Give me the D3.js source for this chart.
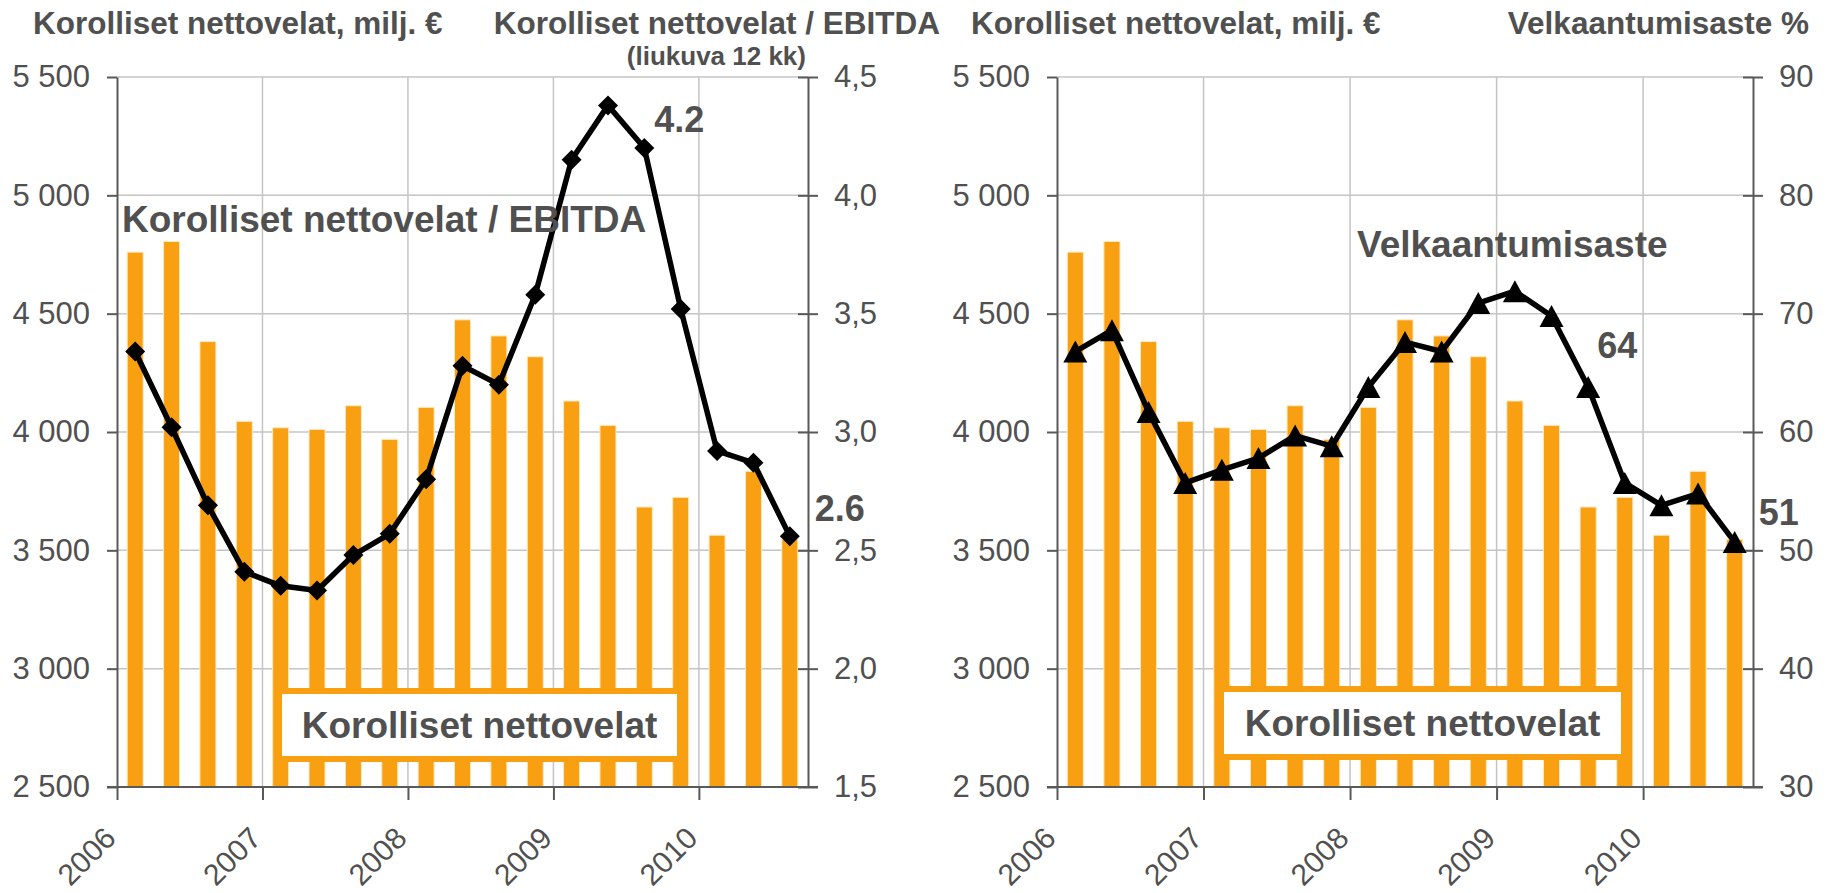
<!DOCTYPE html>
<html>
<head>
<meta charset="utf-8">
<script src="https://cdn.jsdelivr.net/npm/d3@7"></script>
<style>
    body { margin: 0; background: #fff; }
    svg { display: block; font-family: "Liberation Sans", Arial, sans-serif; }
</style>
</head>
<body>
<div id="chart"></div>
<script>

// Quarterly data, Q1/2006 - Q3/2010
const quarters = [
    "2006Q1", "2006Q2", "2006Q3", "2006Q4",
    "2007Q1", "2007Q2", "2007Q3", "2007Q4",
    "2008Q1", "2008Q2", "2008Q3", "2008Q4",
    "2009Q1", "2009Q2", "2009Q3", "2009Q4",
    "2010Q1", "2010Q2", "2010Q3"
];
const netDebt = [4760, 4805, 4382, 4045, 4018, 4011, 4111, 3969, 4104, 4474, 4406, 4318, 4131, 4028, 3683, 3724, 3564, 3834, 3546];
const debtToEbitda = [3.34, 3.02, 2.69, 2.41, 2.35, 2.33, 2.48, 2.57, 2.80, 3.28, 3.20, 3.58, 4.15, 4.38, 4.20, 3.52, 2.92, 2.87, 2.56];
const gearing = [66.8, 68.6, 61.7, 55.7, 56.8, 57.8, 59.7, 58.8, 63.8, 67.6, 66.8, 70.9, 71.9, 69.8, 63.8, 55.7, 53.8, 54.8, 50.7];

// Tick labels
const yearTicks = [2006, 2007, 2008, 2009, 2010];
const debtTicks = [2500, 3000, 3500, 4000, 4500, 5000, 5500];
const ratioTicks = [1.5, 2.0, 2.5, 3.0, 3.5, 4.0, 4.5];
const gearingTicks = [30, 40, 50, 60, 70, 80, 90];

const barColour = "#F8A012";
const textColour = "#505050";
const axisColour = "#595959";
const gridColour = "#C4C4C4";

const fiLocale = d3.formatLocale({ decimal: ",", thousands: " ", grouping: [3], currency: ["", " €"] });

const plotTop = 77;
const plotHeight = 710;

const svg = d3.select("#chart")
    .append("svg")
    .attr("width", 1834)
    .attr("height", 893);

const drawPanel = (opts) => {
    const width = opts.width;
    const g = svg.append("g")
        .attr("transform", "translate(" + opts.left + "," + plotTop + ")");

    // Scales
    const xBand = d3.scaleBand()
        .domain(quarters)
        .range([0, width])
        .paddingInner(0.56)
        .paddingOuter(0.28);

    const xYear = d3.scaleLinear()
        .domain([yearTicks[0], yearTicks[0] + quarters.length / 4])
        .range([0, width]);

    const yLeft = d3.scaleLinear()
        .domain([debtTicks[0], debtTicks[debtTicks.length - 1]])
        .range([plotHeight, 0]);

    const yRight = d3.scaleLinear()
        .domain([opts.rightTicks[0], opts.rightTicks[opts.rightTicks.length - 1]])
        .range([plotHeight, 0]);

    // Gridlines
    g.append("g")
        .selectAll("line")
        .data(debtTicks.slice(1))
        .enter()
        .append("line")
        .attr("x1", 0)
        .attr("x2", width)
        .attr("y1", d => yLeft(d))
        .attr("y2", d => yLeft(d))
        .attr("stroke", gridColour)
        .attr("stroke-width", 1.5);

    g.append("g")
        .selectAll("line")
        .data(yearTicks.slice(1))
        .enter()
        .append("line")
        .attr("x1", d => xYear(d))
        .attr("x2", d => xYear(d))
        .attr("y1", 0)
        .attr("y2", plotHeight)
        .attr("stroke", gridColour)
        .attr("stroke-width", 1.5);

    // Bars
    g.append("g")
        .selectAll("rect")
        .data(quarters)
        .enter()
        .append("rect")
        .attr("x", (d) => xBand(d))
        .attr("width", xBand.bandwidth())
        .attr("y", (d, i) => yLeft(netDebt[i]))
        .attr("height", (d, i) => plotHeight - yLeft(netDebt[i]))
        .attr("fill", barColour)
        .attr("stroke", "#FFE9C2")
        .attr("stroke-width", 1);

    // Axes
    const leftAxis = g.append("g")
        .call(d3.axisLeft(yLeft)
            .tickValues(debtTicks)
            .tickSize(10)
            .tickSizeOuter(0)
            .tickPadding(17)
            .tickFormat(fiLocale.format(",d")));

    const rightAxis = g.append("g")
        .attr("transform", "translate(" + width + ",0)")
        .call(d3.axisRight(yRight)
            .tickValues(opts.rightTicks)
            .tickSize(10)
            .tickSizeOuter(0)
            .tickPadding(16)
            .tickFormat(opts.rightFormat));
    rightAxis.selectAll(".tick line").attr("x1", -10);

    const bottomAxis = g.append("g")
        .attr("transform", "translate(0," + plotHeight + ")")
        .call(d3.axisBottom(xYear)
            .tickValues(yearTicks)
            .tickSize(13)
            .tickSizeOuter(0)
            .tickFormat(d3.format("d")));
    bottomAxis.select(".domain").remove();
    bottomAxis.append("line")
        .attr("x1", -10)
        .attr("x2", width + 10)
        .attr("stroke", axisColour)
        .attr("stroke-width", 2);

    [leftAxis, rightAxis, bottomAxis].forEach(axis => {
        axis.selectAll(".domain, line").attr("stroke", axisColour).attr("stroke-width", 2);
        axis.selectAll("text")
            .attr("fill", textColour)
            .attr("font-size", 31)
            .attr("font-family", "'Liberation Sans', Arial, sans-serif");
    });

    // Rotated year labels
    bottomAxis.selectAll("text")
        .attr("x", 0)
        .attr("y", 0)
        .attr("dy", 0)
        .attr("font-size", 30)
        .attr("text-anchor", "end")
        .attr("transform", "translate(0,53) rotate(-45)");

    // Label box for the bars
    g.append("rect")
        .attr("x", opts.box.x)
        .attr("y", opts.box.y)
        .attr("width", opts.box.w)
        .attr("height", 68)
        .attr("fill", "#fff")
        .attr("stroke", barColour)
        .attr("stroke-width", 6);
    g.append("text")
        .attr("x", opts.box.x + opts.box.w / 2)
        .attr("y", opts.box.y + 47)
        .attr("text-anchor", "middle")
        .attr("font-size", 37)
        .attr("font-weight", "bold")
        .attr("fill", textColour)
        .text("Korolliset nettovelat");

    // Line
    const cx = (i) => xBand(quarters[i]) + xBand.bandwidth() / 2;
    const line = d3.line()
        .x((d, i) => cx(i))
        .y(d => yRight(d));

    g.append("path")
        .datum(opts.lineValues)
        .attr("d", line)
        .attr("fill", "none")
        .attr("stroke", "#000")
        .attr("stroke-width", 5.5)
        .attr("stroke-linejoin", "round");

    g.append("g")
        .selectAll("path")
        .data(opts.lineValues)
        .enter()
        .append("path")
        .attr("d", opts.marker)
        .attr("transform", (d, i) => "translate(" + cx(i) + "," + yRight(d) + ")")
        .attr("fill", "#000");

    // Line value callouts
    g.append("g")
        .selectAll("text")
        .data(opts.callouts)
        .enter()
        .append("text")
        .attr("x", c => cx(c.index) + c.dx)
        .attr("y", c => yRight(opts.lineValues[c.index]) + c.dy)
        .attr("font-size", 36)
        .attr("font-weight", "bold")
        .attr("fill", textColour)
        .text(c => opts.calloutFormat(opts.lineValues[c.index]));

    // Series name inside the plot
    g.append("text")
        .attr("x", opts.seriesLabel.x)
        .attr("y", opts.seriesLabel.y)
        .attr("font-size", 37)
        .attr("font-weight", "bold")
        .attr("fill", textColour)
        .text(opts.seriesLabel.text);
};

const diamond = "M0,-10L10,0L0,10L-10,0Z";
const triangle = "M0,-11L12,11L-12,11Z";

drawPanel({
    left: 117,
    width: 691,
    rightTicks: ratioTicks,
    rightFormat: fiLocale.format(".1f"),
    lineValues: debtToEbitda,
    marker: diamond,
    callouts: [{ index: 14, dx: 10, dy: -16 }, { index: 18, dx: 25, dy: -15 }],
    calloutFormat: d3.format(".1f"),
    seriesLabel: { text: "Korolliset nettovelat / EBITDA", x: 5, y: 155 },
    box: { x: 162, y: 614, w: 401 }
});

drawPanel({
    left: 1057,
    width: 696,
    rightTicks: gearingTicks,
    rightFormat: d3.format("d"),
    lineValues: gearing,
    marker: triangle,
    callouts: [{ index: 14, dx: 9, dy: -29 }, { index: 18, dx: 24, dy: -17 }],
    calloutFormat: d3.format(".0f"),
    seriesLabel: { text: "Velkaantumisaste", x: 300, y: 180 },
    box: { x: 164, y: 612, w: 403 }
});

// Axis titles
const titles = [
    { text: "Korolliset nettovelat, milj. €", x: 33, y: 34, anchor: "start", size: 31.5 },
    { text: "Korolliset nettovelat / EBITDA", x: 940, y: 34, anchor: "end", size: 31.5 },
    { text: "(liukuva 12 kk)", x: 806, y: 65, anchor: "end", size: 26 },
    { text: "Korolliset nettovelat, milj. €", x: 971, y: 34, anchor: "start", size: 31.5 },
    { text: "Velkaantumisaste %", x: 1809, y: 34, anchor: "end", size: 31.5 }
];

svg.append("g")
    .selectAll("text")
    .data(titles)
    .enter()
    .append("text")
    .attr("x", t => t.x)
    .attr("y", t => t.y)
    .attr("text-anchor", t => t.anchor)
    .attr("font-size", t => t.size)
    .attr("font-weight", "bold")
    .attr("fill", textColour)
    .text(t => t.text);

</script>
</body>
</html>
